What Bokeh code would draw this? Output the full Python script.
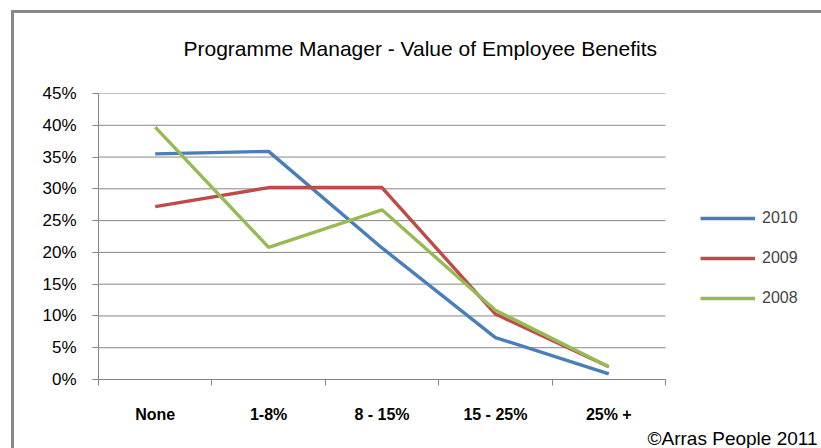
from bokeh.plotting import figure
from bokeh.models import (Range1d, FixedTicker, NumeralTickFormatter, Legend, LegendItem,
                          Title)
from bokeh.embed import file_html
from bokeh.resources import INLINE

categories = ["None", "1-8%", "8 - 15%", "15 - 25%", "25% +"]
series_names = ["2010", "2009", "2008"]
v2010 = [0.355, 0.359, 0.207, 0.066, 0.009]
v2009 = [0.272, 0.302, 0.302, 0.103, 0.020]
v2008 = [0.397, 0.208, 0.267, 0.109, 0.020]
colors = ["#4A7EBB", "#BE4B48", "#98B954"]
y_ticks = [0, 0.05, 0.10, 0.15, 0.20, 0.25, 0.30, 0.35, 0.40, 0.45]
title_text = "Programme Manager - Value of Employee Benefits"
credit_text = "\u00a9Arras People 2011"

FONT = "Liberation Sans"
W, H = 821, 448
ML, MT, PW, PH = 98, 91, 567, 288     # plot area (excluding the legend strip)
n = len(categories)
x_lo, x_hi = -0.5, n - 0.5
x_end = x_hi + (W - ML - PW) / (PW / n)   # frame continues under the legend strip

p = figure(width=W, height=H, output_backend="svg", toolbar_location=None,
           x_range=Range1d(x_lo, x_end), y_range=Range1d(0, 0.45),
           min_border_left=ML, min_border_top=MT,
           min_border_right=0, min_border_bottom=H - MT - PH)
# chart-area border: left and top edges only, as in the reference
p.styles = {"box-shadow": "inset 11px 10px 0 #ffffff, inset 14px 13px 0 #888888"}
p.outline_line_color = None
p.background_fill_color = "white"
p.border_fill_color = None

grid_color = "#868686"
p.xgrid.visible = False
p.ygrid.visible = False
p.segment(x0=[x_lo] * len(y_ticks), x1=[x_hi] * len(y_ticks), y0=y_ticks, y1=y_ticks,
          line_color=grid_color, line_width=1)

xs = list(range(n))
renderers = []
for vals, c in zip([v2010, v2009, v2008], colors):
    r = p.line(xs, vals, line_color=c, line_width=3.4)
    renderers.append(r)

xa = p.xaxis[0]
xa.bounds = (x_lo, x_hi)
xa.ticker = FixedTicker(ticks=xs, minor_ticks=[i - 0.5 for i in range(n + 1)])
xa.major_label_overrides = {i: c for i, c in enumerate(categories)}
xa.major_tick_out = 0
xa.major_tick_in = 0
xa.minor_tick_out = 6
xa.minor_tick_in = 0
xa.minor_tick_line_color = grid_color
xa.axis_line_color = grid_color
xa.major_label_standoff = 20
xa.major_label_text_font = FONT
xa.major_label_text_font_size = "16px"
xa.major_label_text_font_style = "bold"
xa.major_label_text_color = "black"

ya = p.yaxis[0]
ya.ticker = FixedTicker(ticks=y_ticks)
ya.formatter = NumeralTickFormatter(format="0%")
ya.major_tick_out = 6
ya.major_tick_in = 0
ya.minor_tick_line_color = None
ya.major_tick_line_color = grid_color
ya.axis_line_color = grid_color
ya.major_label_standoff = 16
ya.major_label_text_font = FONT
ya.major_label_text_font_size = "17px"
ya.major_label_text_color = "black"

legend = Legend(items=[LegendItem(label=s, renderers=[r]) for s, r in zip(series_names, renderers)],
                location=(602, 71), padding=0, margin=0, spacing=20,
                glyph_width=55, glyph_height=20, label_height=20, label_standoff=7,
                label_text_font=FONT, label_text_font_size="16px",
                label_text_baseline="middle",
                border_line_color=None, background_fill_alpha=0)
p.add_layout(legend, "center")

p.add_layout(Title(text=title_text, align="left", offset=85, standoff=68,
                   text_font=FONT, text_font_size="21px", text_font_style="normal",
                   text_color="black"), "above")
p.add_layout(Title(text=credit_text, align="right", offset=4, standoff=0,
                   text_font=FONT, text_font_size="19px", text_font_style="normal",
                   text_color="black"), "below")

open("out.html", "w").write(file_html(p, INLINE))
